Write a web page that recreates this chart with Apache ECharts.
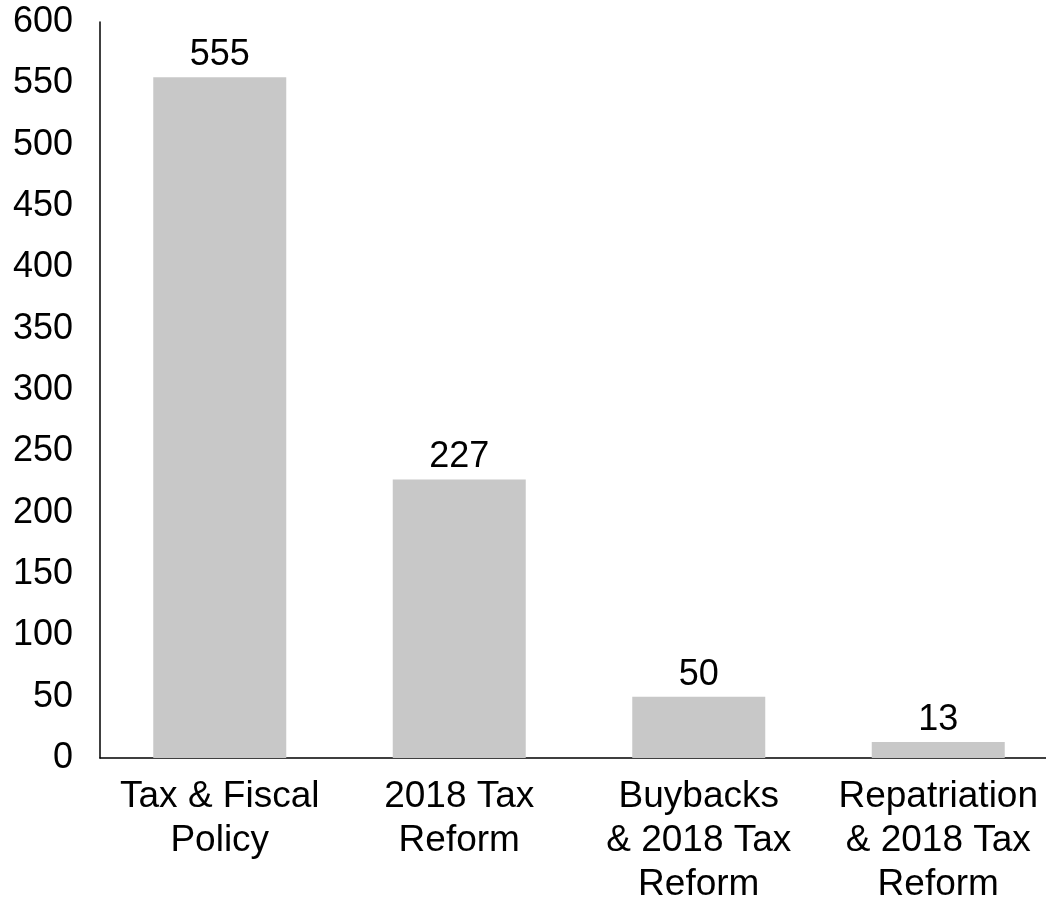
<!DOCTYPE html>
<html>
<head>
<meta charset="utf-8">
<script src="https://cdn.jsdelivr.net/npm/echarts@6/dist/echarts.min.js"></script>
<style>
  html, body { margin: 0; padding: 0; background: #fff; }
  #chart { width: 1046px; height: 899px; }
</style>
</head>
<body>
<div id="chart"></div>
<script>
// Category names (line breaks as displayed under each bar)
const categories = [
  'Tax & Fiscal\nPolicy',
  '2018 Tax\nReform',
  'Buybacks\n& 2018 Tax\nReform',
  'Repatriation\n& 2018 Tax\nReform'
];
const values = [555, 227, 50, 13];
const yTicks = { min: 0, max: 600, interval: 50 };

const FONT = '"Liberation Sans", Arial, sans-serif';

const chart = echarts.init(document.getElementById('chart'), null, { renderer: 'canvas' });
chart.setOption({
  animation: false,
  backgroundColor: '#ffffff',
  grid: {
    left: 100, right: -12, top: 22, bottom: 141,
    containLabel: false, outerBoundsMode: 'none'
  },
  xAxis: {
    type: 'category',
    data: categories,
    axisLine: { show: true, lineStyle: { color: '#000', width: 1.5 } },
    axisTick: { show: false },
    axisLabel: {
      color: '#000', fontFamily: FONT, fontSize: 37, lineHeight: 44,
      margin: 17, interval: 0, align: 'center'
    },
    splitLine: { show: false }
  },
  yAxis: {
    type: 'value',
    min: yTicks.min, max: yTicks.max, interval: yTicks.interval,
    axisLine: { show: true, lineStyle: { color: '#000', width: 1.5 } },
    axisTick: { show: false },
    axisLabel: { color: '#000', fontFamily: FONT, fontSize: 36, margin: 27 },
    splitLine: { show: false }
  },
  series: [{
    type: 'bar',
    data: values,
    barWidth: 133,
    itemStyle: { color: '#c8c8c8' },
    label: {
      show: true, position: 'top', distance: 4,
      color: '#000', fontFamily: FONT, fontSize: 36
    }
  }]
});
</script>
</body>
</html>
